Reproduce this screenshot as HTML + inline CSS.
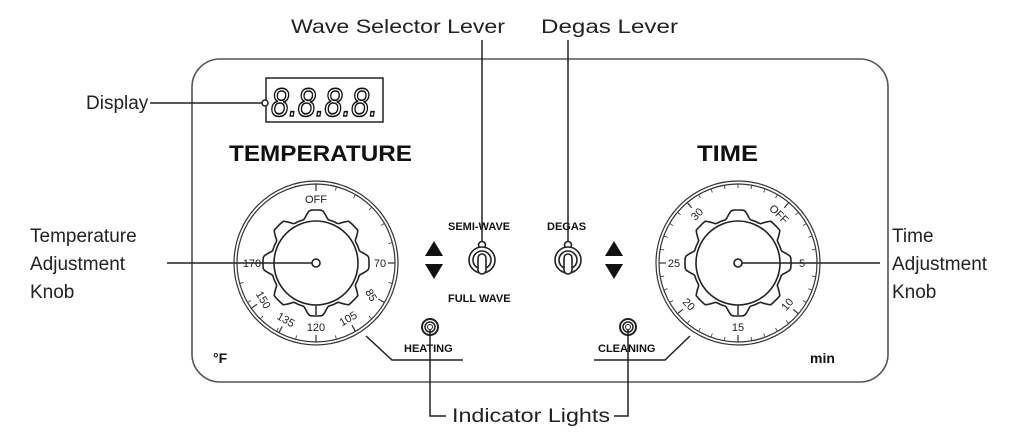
<!DOCTYPE html>
<html><head><meta charset="utf-8"><style>
html,body{margin:0;padding:0;background:#fff;}
svg{display:block;font-family:"Liberation Sans",Arial,sans-serif;}
</style></head><body>
<svg id="s" width="1024" height="448" viewBox="0 0 1024 448">
<rect x="192" y="59" width="696" height="323" rx="28" ry="28" fill="none" stroke="#555" stroke-width="1.6"/>
<g fill="#222" font-size="19">
<text x="291" y="33" textLength="214" lengthAdjust="spacingAndGlyphs">Wave Selector Lever</text>
<text x="541" y="33" textLength="137" lengthAdjust="spacingAndGlyphs">Degas Lever</text>
<text x="86" y="109">Display</text>
<text x="30" y="242">Temperature</text>
<text x="30" y="270">Adjustment</text>
<text x="30" y="298">Knob</text>
<text x="892" y="242">Time</text>
<text x="892" y="270">Adjustment</text>
<text x="892" y="298">Knob</text>
<text x="452" y="422" textLength="158" lengthAdjust="spacingAndGlyphs">Indicator Lights</text>
</g>
<g fill="#111" font-weight="bold">
<text x="229" y="161" font-size="22" textLength="183" lengthAdjust="spacingAndGlyphs">TEMPERATURE</text>
<text x="697" y="161" font-size="22" textLength="61" lengthAdjust="spacingAndGlyphs">TIME</text>
<text x="448" y="230" font-size="11">SEMI-WAVE</text>
<text x="547" y="230" font-size="11">DEGAS</text>
<text x="448" y="302" font-size="11">FULL WAVE</text>
<text x="404" y="352" font-size="11">HEATING</text>
<text x="598" y="352" font-size="11">CLEANING</text>
<text x="213" y="363" font-size="14">°F</text>
<text x="810" y="363" font-size="14">min</text>
</g>
<rect x="266" y="78" width="117" height="44" fill="none" stroke="#222" stroke-width="1.5"/>
<text x="271" y="116" font-size="40" font-style="italic" fill="none" stroke="#111" stroke-width="1.6" textLength="107" lengthAdjust="spacingAndGlyphs">8.8.8.8.</text>
<g stroke="#222" stroke-width="1.5" fill="none">
<line x1="150" y1="103" x2="262" y2="103"/>
<circle cx="265" cy="103" r="3" fill="#fff"/>
<line x1="482" y1="40" x2="482" y2="268"/>
<line x1="568" y1="40" x2="568" y2="268"/>
<polyline points="366,336 392,360 463,360"/>
<polyline points="690,336 665,360 594,360"/>
<polyline points="430,327 430,416 446,416"/>
<polyline points="628,327 628,416 614,416"/>
<line x1="167" y1="263" x2="313" y2="263"/>
<line x1="741" y1="263" x2="880" y2="263"/>
</g>
<g stroke="#222" fill="none">
<circle cx="430" cy="327" r="8" stroke-width="2"/><circle cx="430" cy="327" r="5" stroke-width="1.5"/><circle cx="430" cy="327" r="2.5" fill="#fff" stroke-width="1"/>
<circle cx="628" cy="327" r="8" stroke-width="2"/><circle cx="628" cy="327" r="5" stroke-width="1.5"/><circle cx="628" cy="327" r="2.5" fill="#fff" stroke-width="1"/>
</g>
<g fill="#111">
<polygon points="434,241 425,256 443,256"/><polygon points="434,279 425,264 443,264"/>
<polygon points="614,241 605,256 623,256"/><polygon points="614,279 605,264 623,264"/>
</g>
<g stroke="#222" stroke-width="1.6" fill="#fff">
<circle cx="482" cy="245" r="3.5"/>
<circle cx="482" cy="260" r="13"/><circle cx="482" cy="260" r="9"/>
<rect x="478" y="254" width="8" height="20" rx="4"/>
<circle cx="568" cy="245" r="3.5"/>
<circle cx="568" cy="260" r="13"/><circle cx="568" cy="260" r="9"/>
<rect x="564" y="254" width="8" height="20" rx="4"/>
</g>
<g id="dials"></g>
</svg>
<script>
var g=document.getElementById('dials'),NS='http://www.w3.org/2000/svg';
function el(t,a,txt){var e=document.createElementNS(NS,t);for(var k in a)e.setAttribute(k,a[k]);if(txt)e.textContent=txt;g.appendChild(e);return e;}
function dial(cx,cy,ticks,labels){
 el('circle',{cx:cx,cy:cy,r:82,fill:'none',stroke:'#333','stroke-width':1.2});
 el('circle',{cx:cx,cy:cy,r:79,fill:'none',stroke:'#333','stroke-width':1.2});
 ticks.forEach(function(a){var r=a*Math.PI/180;el('line',{x1:cx+79*Math.cos(r),y1:cy+79*Math.sin(r),x2:cx+75*Math.cos(r),y2:cy+75*Math.sin(r),stroke:'#444','stroke-width':0.9});});
 labels.forEach(function(l){var r=l[1]*Math.PI/180;var x=cx+64*Math.cos(r),y=cy+64*Math.sin(r);
  var rot=l[2]||0;el('text',{x:x,y:y+4,'font-size':11,'text-anchor':'middle',fill:'#222',transform:'rotate('+rot+' '+x+' '+y+')'},l[0]);
  el('line',{x1:cx+79*Math.cos(r),y1:cy+79*Math.sin(r),x2:cx+72*Math.cos(r),y2:cy+72*Math.sin(r),stroke:'#333','stroke-width':1.2});});
 var d='';for(var i=0;i<=360;i+=2){var t=i*Math.PI/180;var c=Math.cos(8*(t+Math.PI/2));var rr=49+4*Math.max(-1,Math.min(1,c*1.8));d+=(i?'L':'M')+(cx+rr*Math.cos(t)).toFixed(1)+','+(cy+rr*Math.sin(t)).toFixed(1);}
 el('path',{d:d+'Z',fill:'none',stroke:'#222','stroke-width':1.6});
 el('circle',{cx:cx,cy:cy,r:42,fill:'none',stroke:'#222','stroke-width':1.6});
 el('line',{x1:cx,y1:cy+42,x2:cx,y2:cy+52,stroke:'#222','stroke-width':1.4});
 el('circle',{cx:cx,cy:cy,r:4,fill:'#fff',stroke:'#222','stroke-width':1.6});
}
var t1=[];for(var a=-90;a<=180;a+=15)t1.push(a);
dial(316,263,t1,[['OFF',-90],['70',0],['85',30,60],['105',60,-30],['120',90],['135',118,30],['150',145,60],['170',180]]);
var t2=[];for(var a=0;a<360;a+=10)t2.push(a);
dial(738,263,t2,[['OFF',-50,45],['5',0],['10',40,-50],['15',90],['20',140,45],['25',180],['30',230,-45]]);
</script>
</body></html>
